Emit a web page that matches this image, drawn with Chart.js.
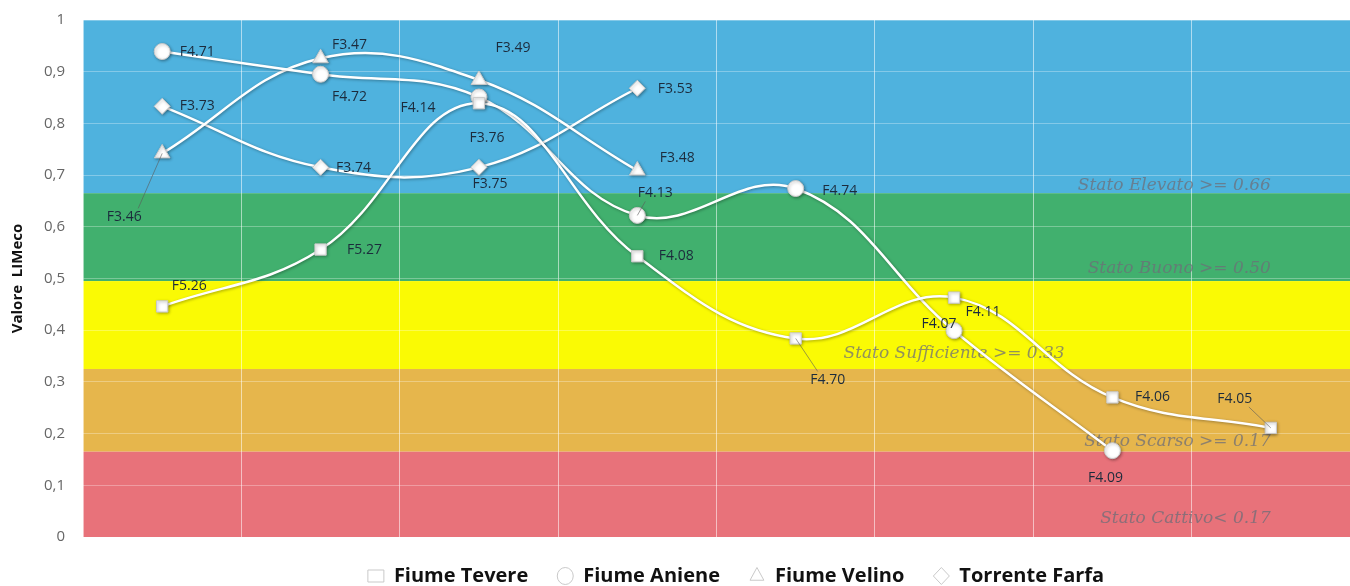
<!DOCTYPE html>
<html>
<head>
<meta charset="utf-8">
<script src="https://cdn.jsdelivr.net/npm/chart.js@4.4.1/dist/chart.umd.min.js"></script>
<style>
  html, body { margin: 0; padding: 0; background: #fff; overflow: hidden; }
  #wrap { width: 1350px; height: 586px; }
</style>
</head>
<body>
<div id="wrap"><canvas id="chart-1"></canvas></div>
<script>
// stations along the river (no labels on the x axis)
const categories = ["1", "2", "3", "4", "5", "6", "7", "8"];

const tevere = [0.446, 0.556, 0.839, 0.543, 0.384, 0.463, 0.27, 0.211];
const tevereLabels = ["F5.26", "F5.27", "F4.14", "F4.08", "F4.70", "F4.11", "F4.06", "F4.05"];
const aniene = [0.939, 0.895, 0.851, 0.622, 0.674, 0.399, 0.167];
const anieneLabels = ["F4.71", "F4.72", "F3.76", "F4.13", "F4.74", "F4.07", "F4.09"];
const velino = [0.742, 0.926, 0.884, 0.709];
const velinoLabels = ["F3.46", "F3.47", "F3.49", "F3.48"];
const farfa = [0.833, 0.715, 0.715, 0.868];
const farfaLabels = ["F3.73", "F3.74", "F3.75", "F3.53"];

// quality classes (top / bottom of each band)
const bandTop = [1, 0.665, 0.495, 0.325, 0.165];
const bandBottom = [0.665, 0.495, 0.325, 0.165, 0];
const bandNames = ["Stato Elevato >= 0.66", "Stato Buono >= 0.50", "Stato Sufficiente >= 0.33", "Stato Scarso >= 0.17", "Stato Cattivo< 0.17"];
const bandColors = ["#4fb2de", "#41b06e", "#fafa04", "#e6b64c", "#e8727a"];

// where the class names sit: [category index, value, align]
const bandTextPos = [[7, 0.68, "right"], [7, 0.52, "right"], [5, 0.355, "center"], [7, 0.185, "right"], [7, 0.035, "right"]];

// label offsets in px: [dx, dy, leader line]
const tevereOff = [[27, -20], [44, 0], [-61, 5], [39, 0], [32, 42, 1], [29, 14], [40, 0], [-36, -29, 1]];
const anieneOff = [[35, 0], [29, 23], [8, 41], [18, -22, 1], [44, 2], [-15, -7], [-7, 27]];
const velinoOff = [[-38, 64, 1], [29, -13], [34, -32], [40, -12]];
const farfaOff = [[35, 0], [33, 1], [11, 17], [38, 1]];

const bandsPlugin = {
  id: "bands",
  afterLayout(chart) {
    // legend sits a bit right of centre in the original
    chart.legend.left += 61;
    chart.legend.right += 61;
  },
  beforeDraw(chart) {
    const { ctx, chartArea: a, scales: { y } } = chart;
    ctx.save();
    bandTop.forEach((t, i) => {
      const y1 = y.getPixelForValue(t);
      const y2 = y.getPixelForValue(bandBottom[i]);
      ctx.fillStyle = bandColors[i];
      ctx.fillRect(a.left, y1, a.right - a.left, y2 - y1);
    });
    ctx.restore();
  },
  beforeDatasetsDraw(chart) {
    const { ctx, scales: { x, y } } = chart;
    ctx.save();
    ctx.font = "italic 17px 'DejaVu Serif'";
    ctx.fillStyle = "rgba(110,110,120,0.75)";
    ctx.textBaseline = "middle";
    bandNames.forEach((n, i) => {
      const p = bandTextPos[i];
      ctx.textAlign = p[2];
      ctx.fillText(n, x.getPixelForValue(p[0]), y.getPixelForValue(p[1]));
    });
    ctx.restore();
  },
};

const shadowPlugin = {
  id: "shadow",
  beforeDatasetDraw(chart) {
    const ctx = chart.ctx;
    ctx.save();
    ctx.shadowColor = "rgba(0,0,0,0.35)";
    ctx.shadowBlur = 3;
    ctx.shadowOffsetX = 1;
    ctx.shadowOffsetY = 1;
  },
  afterDatasetDraw(chart) {
    chart.ctx.restore();
  },
};

const labelsPlugin = {
  id: "pointLabels",
  afterDatasetsDraw(chart) {
    const ctx = chart.ctx;
    ctx.save();
    ctx.font = "14px 'Open Sans'";
    ctx.textAlign = "center";
    ctx.textBaseline = "middle";
    chart.data.datasets.forEach((ds, di) => {
      const meta = chart.getDatasetMeta(di);
      meta.data.forEach((pt, i) => {
        const off = ds.offsets[i];
        const tx = pt.x + off[0];
        const ty = pt.y + off[1];
        if (off[2]) {
          ctx.strokeStyle = "rgba(90,90,90,0.6)";
          ctx.lineWidth = 1;
          ctx.beginPath();
          ctx.moveTo(pt.x, pt.y);
          ctx.lineTo(tx + (off[0] < 0 ? 14 : -10), ty + (off[1] < 0 ? 8 : -9));
          ctx.stroke();
        }
        ctx.fillStyle = "#1c2b3c";
        ctx.fillText(ds.pointNames[i], tx, ty);
      });
    });
    ctx.restore();
  },
};

function series(label, data, names, offsets, style, radius) {
  return {
    label: label,
    data: data,
    pointNames: names,
    offsets: offsets,
    borderColor: "#ffffff",
    borderWidth: 2.5,
    tension: 0.4,
    pointStyle: style,
    pointRadius: radius,
    pointBackgroundColor: "#ffffff",
    pointBorderColor: "#c9c9c9",
    pointBorderWidth: 1,
  };
}

new Chart(document.getElementById("chart-1"), {
  type: "line",
  data: {
    labels: categories,
    datasets: [
      series("Fiume Tevere", tevere, tevereLabels, tevereOff, "rect", 8),
      series("Fiume Aniene", aniene, anieneLabels, anieneOff, "circle", 8),
      series("Fiume Velino", velino, velinoLabels, velinoOff, "triangle", 9),
      series("Torrente Farfa", farfa, farfaLabels, farfaOff, "rectRot", 8),
    ],
  },
  plugins: [bandsPlugin, shadowPlugin, labelsPlugin],
  options: {
    responsive: true,
    maintainAspectRatio: false,
    animation: false,
    layout: { autoPadding: false, padding: { top: 20, right: 0, left: 0, bottom: -10 } },
    scales: {
      x: {
        offset: true,
        grid: { offset: true, color: "rgba(255,255,255,0.55)", drawTicks: false },
        border: { display: false },
        ticks: { display: false },
      },
      y: {
        min: 0,
        max: 1,
        afterFit(scale) {
          scale.width = 83;
          scale.paddingTop = 0;
          scale.paddingBottom = 0;
        },
        ticks: {
          stepSize: 0.1,
          padding: 18,
          color: "#666666",
          font: { family: "'Open Sans'", size: 15 },
          callback: (v) => (v === 0 || v === 1 ? String(v) : v.toFixed(1).replace(".", ",")),
        },
        grid: { color: "rgba(255,255,255,0.3)", drawTicks: false },
        border: { display: false },
        title: {
          display: true,
          text: "Valore  LIMeco",
          color: "#111111",
          font: { family: "'Open Sans'", size: 15, weight: "bold" },
          padding: { top: 9, bottom: 0 },
        },
      },
    },
    plugins: {
      tooltip: { enabled: false },
      legend: {
        display: true,
        position: "bottom",
        labels: {
          usePointStyle: true,
          pointStyleWidth: 16,
          boxWidth: 12,
          boxHeight: 12,
          padding: 29,
          color: "#111111",
          font: { family: "'Open Sans'", size: 20, weight: "bold" },
        },
      },
    },
  },
});
</script>
</body>
</html>
